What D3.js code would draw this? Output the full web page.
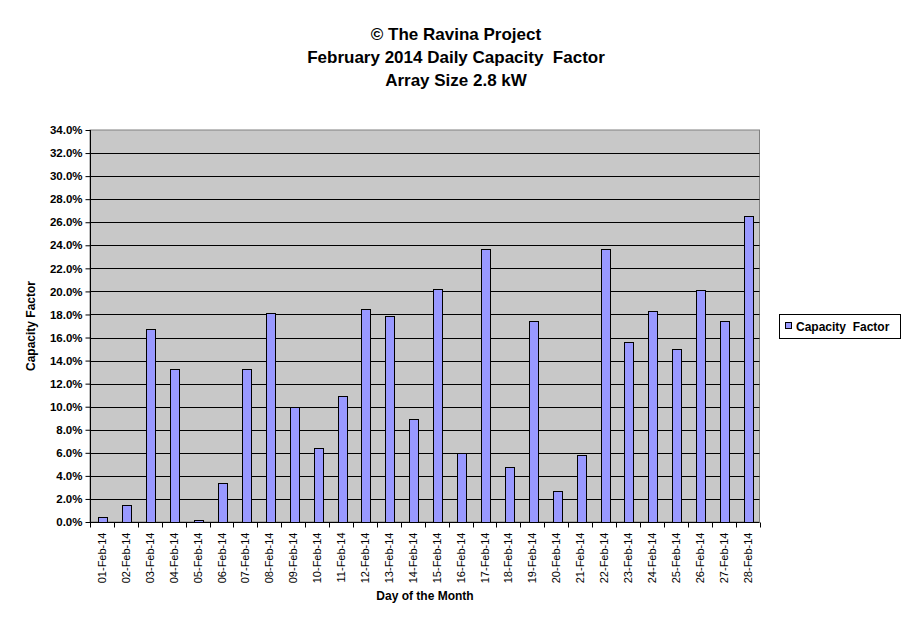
<!DOCTYPE html>
<html><head><meta charset="utf-8">
<script src="https://cdn.jsdelivr.net/npm/d3@7"></script>
<style>body{margin:0;background:#fff}svg{display:block}text{font-family:"Liberation Sans",Arial,sans-serif;white-space:pre}</style>
</head><body>
<script>
const days = ["01-Feb-14","02-Feb-14","03-Feb-14","04-Feb-14","05-Feb-14","06-Feb-14","07-Feb-14","08-Feb-14","09-Feb-14","10-Feb-14","11-Feb-14","12-Feb-14","13-Feb-14","14-Feb-14","15-Feb-14","16-Feb-14","17-Feb-14","18-Feb-14","19-Feb-14","20-Feb-14","21-Feb-14","22-Feb-14","23-Feb-14","24-Feb-14","25-Feb-14","26-Feb-14","27-Feb-14","28-Feb-14"];
const capacityFactor = [0.4,1.5,16.7,13.3,0.2,3.4,13.3,18.1,10.0,6.4,10.9,18.5,17.9,8.9,20.2,6.0,23.7,4.8,17.4,2.7,5.8,23.7,15.6,18.3,15.0,20.1,17.4,26.5];
const yTicks = [0,2,4,6,8,10,12,14,16,18,20,22,24,26,28,30,32,34];
const titleLines = ["© The Ravina Project","February 2014 Daily Capacity  Factor","Array Size 2.8 kW"];

const W=911,H=623, L=90, R=759.5, T=130, B=522;
const svg=d3.select("body").append("svg").attr("width",W).attr("height",H);
const x=d3.scaleBand().domain(days).range([L,R]).paddingInner(0.62).paddingOuter(0.31);
const xb=d3.scaleBand().domain(days).range([L,R]);
const y=d3.scaleLinear().domain([0,34]).range([B,T]);

svg.append("rect").attr("x",L).attr("y",T).attr("width",R-L).attr("height",B-T).attr("fill","#c8c8c8").attr("stroke","#808080").attr("stroke-width",1);
svg.append("g").selectAll("line").data(yTicks.filter(d=>d>0&&d<34)).join("line")
 .attr("x1",L).attr("x2",R).attr("y1",d=>Math.round(y(d))+0.5).attr("y2",d=>Math.round(y(d))+0.5).attr("stroke","#000");

svg.append("g").selectAll("rect").data(capacityFactor).join("rect")
 .attr("x",(d,i)=>Math.round(x(days[i]))+1.5).attr("width",Math.round(x.bandwidth()))
 .attr("y",d=>Math.round(y(d))+0.5).attr("height",d=>Math.max(0,B-Math.round(y(d))))
 .attr("fill","#9999ff").attr("stroke","#000").attr("stroke-width",1);

// axes
const ya=svg.append("g").attr("transform",`translate(${L+0.5},0)`)
 .call(d3.axisLeft(y).tickValues(yTicks).tickSize(5).tickFormat(d=>d.toFixed(1)+"%"));
ya.select(".domain").attr("stroke","#000").attr("d",`M-0,${T}V${B}`);
ya.selectAll("text").attr("font-size",11.5).attr("font-weight","bold").attr("fill","#000").attr("x",-8);
ya.selectAll(".tick line").attr("stroke","#000");

const xa=svg.append("g").attr("transform",`translate(0,${B+0.5})`);
xa.append("line").attr("x1",L).attr("x2",R).attr("stroke","#000");
xa.selectAll("line.t").data(days.concat(["end"])).join("line").attr("class","t")
 .attr("x1",(d,i)=>Math.round(L+i*xb.bandwidth())+0.5).attr("x2",(d,i)=>Math.round(L+i*xb.bandwidth())+0.5)
 .attr("y1",0).attr("y2",5).attr("stroke","#000");
xa.selectAll("text").data(days).join("text")
 .attr("transform",d=>`translate(${xb(d)+xb.bandwidth()/2+4},10) rotate(-90)`)
 .attr("text-anchor","end").attr("font-size",11).attr("fill","#000").text(d=>d);

svg.append("g").selectAll("text").data(titleLines).join("text")
 .attr("x",456).attr("y",(d,i)=>40+i*23).attr("text-anchor","middle")
 .attr("font-size",17).attr("font-weight","bold").text(d=>d);

svg.append("text").attr("x",425).attr("y",600).attr("text-anchor","middle").attr("font-size",12).attr("font-weight","bold").text("Day of the Month");
svg.append("text").attr("transform","translate(35,326) rotate(-90)").attr("text-anchor","middle").attr("font-size",12).attr("font-weight","bold").text("Capacity Factor");

const lg=svg.append("g");
lg.append("rect").attr("x",779.5).attr("y",314.5).attr("width",121).attr("height",24).attr("fill","#fff").attr("stroke","#000");
lg.append("rect").attr("x",785.5).attr("y",322.5).attr("width",6).attr("height",6).attr("fill","#9999ff").attr("stroke","#000");
lg.append("text").attr("x",796).attr("y",331).attr("font-size",12).attr("font-weight","bold").text("Capacity  Factor");
</script>
</body></html>
